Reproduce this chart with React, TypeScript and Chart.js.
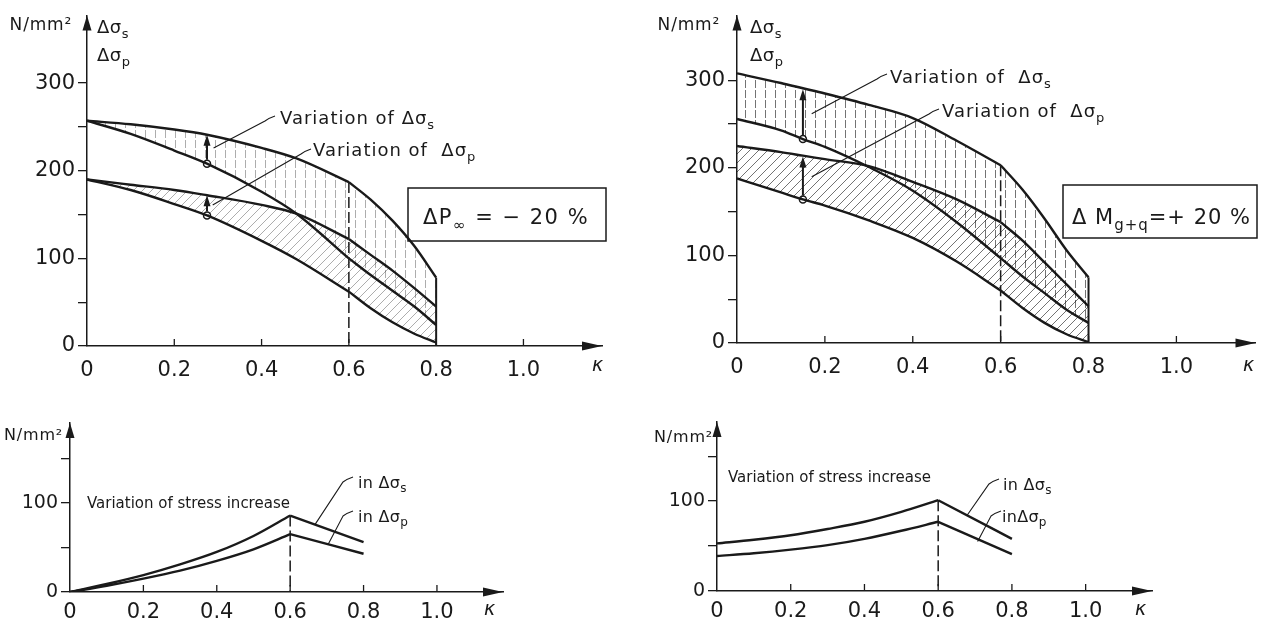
import React, { useEffect, useRef } from 'react';
import { Chart, registerables } from 'chart.js';

Chart.register(...registerables);

const FONT = '"DejaVu Sans", "Liberation Sans", sans-serif';
const INK = '#1a1a1a';

// ---- common axes ----
const kappaTicks = [0, 0.2, 0.4, 0.6, 0.8, 1.0];
const kappaMax = 1.18;
const topStressTicks = [0, 50, 100, 150, 200, 250, 300];
const bottomStressTicks = [0, 50, 100, 150];
const kappaKink = 0.6;

// ---- top left: ΔP∞ = −20 % ----
const tlKappaA = [0, 0.1, 0.2, 0.275, 0.4, 0.48, 0.6];
const tlSsUpperA = [257, 253, 247, 241, 226, 214, 187];
const tlSsLowerA = [257, 242, 223, 208, 176, 151, 100];
const tlSpUpperA = [190, 184, 178, 172, 161, 151, 122];
const tlSpLowerA = [190, 178, 162, 149, 120, 99, 62];
const tlKappaB = [0.6, 0.65, 0.7, 0.75, 0.8];
const tlSsUpperB = [187, 167, 143, 114, 78];
const tlSsLowerB = [100, 81, 63, 45, 24];
const tlSpUpperB = [122, 104, 86, 66, 45];
const tlSpLowerB = [62, 43, 27, 14, 4];
const tlMarkKappa = 0.275;
const tlArrowS = [208, 241];
const tlArrowP = [149, 172];

// ---- top right: ΔMg+q = +20 % ----
const trKappaA = [0, 0.1, 0.15, 0.2, 0.3, 0.4, 0.5, 0.6];
const trSsUpperA = [308, 297, 291, 285, 272, 257, 231, 203];
const trSsLowerA = [256, 243, 233, 224, 201, 174, 138, 97];
const trSpUpperA = [225, 218, 214, 210, 202, 184, 164, 138];
const trSpLowerA = [188, 172, 164, 157, 140, 120, 93, 60];
const trKappaB = [0.6, 0.65, 0.7, 0.75, 0.8];
const trSsUpperB = [203, 175, 142, 106, 75];
const trSsLowerB = [97, 76, 57, 38, 23];
const trSpUpperB = [138, 117, 92, 67, 42];
const trSpLowerB = [60, 40, 23, 10, 1];
const trMarkKappa = 0.15;
const trArrowS = [233, 290];
const trArrowP = [164, 213];

// ---- bottom left: variation of stress increase (ΔP∞) ----
const blKappaA = [0, 0.1, 0.2, 0.3, 0.4, 0.5, 0.6];
const blSsA = [0, 9, 19, 31, 45, 63, 86];
const blSpA = [0, 7, 15, 24, 35, 48, 65];
const blKappaB = [0.6, 0.8];
const blSsB = [86, 56];
const blSpB = [65, 43];

// ---- bottom right: variation of stress increase (ΔMg+q) ----
const brKappaA = [0, 0.1, 0.2, 0.3, 0.4, 0.5, 0.6];
const brSsA = [53, 57, 62, 69, 77, 88, 101];
const brSpA = [39, 42, 46, 51, 58, 67, 77];
const brKappaB = [0.6, 0.8];
const brSsB = [101, 58];
const brSpB = [77, 41];

type Seg = [string, 'n' | 'sub'];

const pts = (xs: number[], ys: number[]) => xs.map((x, i) => ({ x, y: ys[i] }));

function makePattern(kind: 'v' | 'd', color: string, size: number) {
  const c = document.createElement('canvas');
  c.width = size;
  c.height = size;
  const g = c.getContext('2d')!;
  g.strokeStyle = color;
  g.lineWidth = 1;
  g.beginPath();
  if (kind === 'v') {
    g.moveTo(size / 2 + 0.5, 0);
    g.lineTo(size / 2 + 0.5, size * 0.8);
  } else {
    g.moveTo(0, size);
    g.lineTo(size, 0);
    g.moveTo(-2, 2);
    g.lineTo(2, -2);
    g.moveTo(size - 2, size + 2);
    g.lineTo(size + 2, size - 2);
  }
  g.stroke();
  return g.createPattern(c, 'repeat')!;
}

function curve(data: any[], fill: any = null) {
  return {
    type: 'line',
    data,
    borderColor: INK,
    borderWidth: 2.4,
    pointRadius: 0,
    cubicInterpolationMode: 'monotone',
    fill: fill ? '+1' : false,
    backgroundColor: fill || 'rgba(0,0,0,0)',
  };
}

function markers(data: any[]) {
  return {
    type: 'line',
    data,
    showLine: false,
    pointRadius: 3.5,
    pointBackgroundColor: '#fff',
    pointBorderColor: INK,
    pointBorderWidth: 1.5,
    borderColor: INK,
    fill: false,
  };
}

function drawRich(ctx: CanvasRenderingContext2D, x: number, y: number, size: number, segs: Seg[], spacing = 0, align: 'left' | 'right' = 'left') {
  ctx.save();
  ctx.fillStyle = INK;
  ctx.textBaseline = 'alphabetic';
  ctx.textAlign = 'left';
  (ctx as any).letterSpacing = spacing + 'px';
  const fontFor = (k: string) => `${k === 'sub' ? Math.round(size * 0.72) : size}px ${FONT}`;
  let total = 0;
  for (const [s, k] of segs) {
    ctx.font = fontFor(k);
    total += ctx.measureText(s).width;
  }
  let cx = align === 'right' ? x - total : x;
  for (const [s, k] of segs) {
    ctx.font = fontFor(k);
    ctx.fillText(s, cx, y + (k === 'sub' ? size * 0.28 : 0));
    cx += ctx.measureText(s).width;
  }
  ctx.restore();
}

function tri(ctx: CanvasRenderingContext2D, tx: number, ty: number, dir: 'up' | 'right', len: number, half: number) {
  ctx.beginPath();
  if (dir === 'up') {
    ctx.moveTo(tx, ty);
    ctx.lineTo(tx - half, ty + len);
    ctx.lineTo(tx + half, ty + len);
  } else {
    ctx.moveTo(tx, ty);
    ctx.lineTo(tx - len, ty - half);
    ctx.lineTo(tx - len, ty + half);
  }
  ctx.closePath();
  ctx.fill();
}

function leader(ctx: CanvasRenderingContext2D, sx: number, sy: number, ex: number, ey: number) {
  ctx.save();
  ctx.strokeStyle = INK;
  ctx.lineWidth = 1.1;
  ctx.beginPath();
  ctx.moveTo(sx, sy);
  ctx.lineTo(ex - 7, ey + 4);
  ctx.quadraticCurveTo(ex - 3, ey + 1, ex + 3, ey - 1);
  ctx.stroke();
  ctx.restore();
}

function vline(ctx: CanvasRenderingContext2D, x: number, y0: number, y1: number, dash: number[], w: number) {
  ctx.save();
  ctx.strokeStyle = INK;
  ctx.lineWidth = w;
  ctx.setLineDash(dash);
  ctx.beginPath();
  ctx.moveTo(x, y0);
  ctx.lineTo(x, y1);
  ctx.stroke();
  ctx.restore();
}

function upArrow(ctx: CanvasRenderingContext2D, x: number, y0: number, y1: number) {
  ctx.save();
  ctx.strokeStyle = INK;
  ctx.fillStyle = INK;
  ctx.lineWidth = 2;
  ctx.beginPath();
  ctx.moveTo(x, y0 - 4);
  ctx.lineTo(x, y1 + 8);
  ctx.stroke();
  tri(ctx, x, y1, 'up', 11, 3.5);
  ctx.restore();
}

interface Spec {
  left: number; top: number; w: number; h: number;
  yWidth: number; xHeight: number;
  padding: { left: number; right: number; top: number; bottom: number };
  ymax: number; yTicks: number[];
  xFont: number; yFont: number; xPad: number;
  kappaPos: [number, number];
  unitPos: [number, number]; unitSize: number;
  datasets: (p: { v: CanvasPattern; d: CanvasPattern }) => any[];
  hatch: string;
  decor: (chart: any, ctx: CanvasRenderingContext2D) => void;
}

const S_SUB: Seg[] = [['Δσ', 'n'], ['s', 'sub']];
const P_SUB: Seg[] = [['Δσ', 'n'], ['p', 'sub']];

function topBands(kA: number[], kB: number[], su: number[][], sl: number[][], pu: number[][], pl: number[][], mk: number, marks: number[]) {
  return (p: { v: CanvasPattern; d: CanvasPattern }) => [
    curve(pts(kA, su[0]), p.v),
    curve(pts(kA, sl[0])),
    curve(pts(kA, pu[0]), p.d),
    curve(pts(kA, pl[0])),
    curve(pts(kB, su[1]), p.v),
    curve(pts(kB, sl[1])),
    curve(pts(kB, pu[1]), p.d),
    curve(pts(kB, pl[1])),
    markers(marks.map((m) => ({ x: mk, y: m }))),
  ];
}

const specs: Spec[] = [
  {
    left: 0, top: 0, w: 630, h: 390,
    yWidth: 87, xHeight: 44,
    padding: { left: 0, right: 28, top: 15, bottom: 0 },
    ymax: 377, yTicks: topStressTicks,
    xFont: 21, yFont: 21, xPad: 12,
    kappaPos: [592, 371], unitPos: [72, 30], unitSize: 17,
    hatch: 'rgba(0,0,0,0.32)',
    datasets: topBands(tlKappaA, tlKappaB, [tlSsUpperA, tlSsUpperB], [tlSsLowerA, tlSsLowerB], [tlSpUpperA, tlSpUpperB], [tlSpLowerA, tlSpLowerB], tlMarkKappa, [tlArrowS[0], tlArrowP[0]]),
    decor: (chart, ctx) => {
      const x = chart.scales.x, y = chart.scales.y;
      vline(ctx, x.getPixelForValue(kappaKink), y.getPixelForValue(tlSsUpperA[tlSsUpperA.length - 1]), y.getPixelForValue(0), [11, 4], 1.5);
      vline(ctx, x.getPixelForValue(0.8), y.getPixelForValue(tlSsUpperB[tlSsUpperB.length - 1]), y.getPixelForValue(0), [], 2);
      const mx = x.getPixelForValue(tlMarkKappa);
      upArrow(ctx, mx, y.getPixelForValue(tlArrowS[0]), y.getPixelForValue(tlArrowS[1]));
      upArrow(ctx, mx, y.getPixelForValue(tlArrowP[0]), y.getPixelForValue(tlArrowP[1]));
      leader(ctx, x.getPixelForValue(0.29), y.getPixelForValue(226), 272, 117);
      leader(ctx, x.getPixelForValue(0.288), y.getPixelForValue(161), 308, 150);
      drawRich(ctx, 280, 124, 18, [['Variation of ', 'n'], ...S_SUB], 1);
      drawRich(ctx, 313, 156, 18, [['Variation of  ', 'n'], ...P_SUB], 1);
      drawRich(ctx, 97, 33, 18, S_SUB, 0.5);
      drawRich(ctx, 97, 61, 18, P_SUB, 0.5);
      ctx.save();
      ctx.strokeStyle = INK;
      ctx.lineWidth = 1.5;
      ctx.strokeRect(408, 188, 198, 53);
      ctx.restore();
      drawRich(ctx, 423, 224, 21, [['ΔP', 'n'], ['∞', 'sub'], [' = − 20 %', 'n']], 1.5);
    },
  },
  {
    left: 630, top: 0, w: 631, h: 390,
    yWidth: 107, xHeight: 47,
    padding: { left: 0, right: 5, top: 15, bottom: 0 },
    ymax: 374, yTicks: topStressTicks,
    xFont: 21, yFont: 21, xPad: 12,
    kappaPos: [613, 371], unitPos: [90, 30], unitSize: 17,
    hatch: 'rgba(0,0,0,0.55)',
    datasets: topBands(trKappaA, trKappaB, [trSsUpperA, trSsUpperB], [trSsLowerA, trSsLowerB], [trSpUpperA, trSpUpperB], [trSpLowerA, trSpLowerB], trMarkKappa, [trArrowS[0], trArrowP[0]]),
    decor: (chart, ctx) => {
      const x = chart.scales.x, y = chart.scales.y;
      vline(ctx, x.getPixelForValue(kappaKink), y.getPixelForValue(trSsUpperA[trSsUpperA.length - 1]), y.getPixelForValue(0), [11, 4], 1.5);
      vline(ctx, x.getPixelForValue(0.8), y.getPixelForValue(trSsUpperB[trSsUpperB.length - 1]), y.getPixelForValue(0), [], 2);
      const mx = x.getPixelForValue(trMarkKappa);
      upArrow(ctx, mx, y.getPixelForValue(trArrowS[0]), y.getPixelForValue(trArrowS[1]));
      upArrow(ctx, mx, y.getPixelForValue(trArrowP[0]), y.getPixelForValue(trArrowP[1]));
      leader(ctx, x.getPixelForValue(0.17), y.getPixelForValue(262), 254, 75);
      leader(ctx, x.getPixelForValue(0.17), y.getPixelForValue(190), 306, 110);
      drawRich(ctx, 260, 83, 18, [['Variation of  ', 'n'], ...S_SUB], 1);
      drawRich(ctx, 312, 117, 18, [['Variation of  ', 'n'], ...P_SUB], 1);
      drawRich(ctx, 120, 33, 18, S_SUB, 0.5);
      drawRich(ctx, 120, 61, 18, P_SUB, 0.5);
      ctx.save();
      ctx.strokeStyle = INK;
      ctx.lineWidth = 1.5;
      ctx.strokeRect(433, 185, 194, 53);
      ctx.restore();
      drawRich(ctx, 442, 224, 21, [['Δ M', 'n'], ['g+q', 'sub'], ['=+ 20 %', 'n']], 1);
    },
  },
  {
    left: 0, top: 390, w: 630, h: 231,
    yWidth: 70, xHeight: 29,
    padding: { left: 0, right: 127, top: 33, bottom: 0 },
    ymax: 190, yTicks: bottomStressTicks,
    xFont: 21, yFont: 19, xPad: 8,
    kappaPos: [484, 225], unitPos: [63, 50], unitSize: 16,
    hatch: 'rgba(0,0,0,0.4)',
    datasets: () => [
      curve(pts(blKappaA, blSsA)),
      curve(pts(blKappaA, blSpA)),
      curve(pts(blKappaB, blSsB)),
      curve(pts(blKappaB, blSpB)),
    ],
    decor: (chart, ctx) => {
      const x = chart.scales.x, y = chart.scales.y;
      vline(ctx, x.getPixelForValue(kappaKink), y.getPixelForValue(blSsA[blSsA.length - 1]), y.getPixelForValue(0), [11, 4], 1.5);
      leader(ctx, x.getPixelForValue(0.668), y.getPixelForValue(76), 350, 88);
      leader(ctx, x.getPixelForValue(0.704), y.getPixelForValue(54), 350, 122);
      drawRich(ctx, 87, 118, 15, [['Variation of stress increase', 'n']], 0);
      drawRich(ctx, 358, 98, 16, [['in ', 'n'], ...S_SUB], 0.3);
      drawRich(ctx, 358, 132, 16, [['in ', 'n'], ...P_SUB], 0.3);
    },
  },
  {
    left: 630, top: 390, w: 631, h: 231,
    yWidth: 87, xHeight: 30,
    padding: { left: 0, right: 109, top: 32, bottom: 0 },
    ymax: 188, yTicks: bottomStressTicks,
    xFont: 21, yFont: 19, xPad: 8,
    kappaPos: [505, 225], unitPos: [83, 52], unitSize: 16,
    hatch: 'rgba(0,0,0,0.4)',
    datasets: () => [
      curve(pts(brKappaA, brSsA)),
      curve(pts(brKappaA, brSpA)),
      curve(pts(brKappaB, brSsB)),
      curve(pts(brKappaB, brSpB)),
    ],
    decor: (chart, ctx) => {
      const x = chart.scales.x, y = chart.scales.y;
      vline(ctx, x.getPixelForValue(kappaKink), y.getPixelForValue(brSsA[brSsA.length - 1]), y.getPixelForValue(0), [11, 4], 1.5);
      leader(ctx, x.getPixelForValue(0.678), y.getPixelForValue(84), 366, 90);
      leader(ctx, x.getPixelForValue(0.707), y.getPixelForValue(55), 368, 122);
      drawRich(ctx, 98, 92, 15, [['Variation of stress increase', 'n']], 0);
      drawRich(ctx, 373, 100, 16, [['in ', 'n'], ...S_SUB], 0.3);
      drawRich(ctx, 372, 132, 16, [['in', 'n'], ...P_SUB], 0.3);
    },
  },
];

function buildConfig(spec: Spec): any {
  const patterns = {
    v: makePattern('v', spec.hatch, 10),
    d: makePattern('d', spec.hatch, 9),
  };
  const decorPlugin = {
    id: 'decor',
    afterDatasetsDraw(chart: any) {
      const ctx: CanvasRenderingContext2D = chart.ctx;
      const a = chart.chartArea;
      const x = chart.scales.x;
      ctx.save();
      ctx.fillStyle = INK;
      ctx.strokeStyle = INK;
      tri(ctx, a.left, a.top, 'up', 15, 4.5);
      tri(ctx, a.right, a.bottom, 'right', 20, 4.5);
      ctx.lineWidth = 1.3;
      for (const v of kappaTicks) {
        if (v === 0) continue;
        const px = x.getPixelForValue(v);
        ctx.beginPath();
        ctx.moveTo(px, a.bottom);
        ctx.lineTo(px, a.bottom - 7);
        ctx.stroke();
      }
      ctx.restore();
      ctx.save();
      ctx.fillStyle = INK;
      ctx.font = `italic 19px ${FONT}`;
      ctx.textBaseline = 'alphabetic';
      ctx.fillText('κ', spec.kappaPos[0], spec.kappaPos[1]);
      ctx.restore();
      drawRich(ctx, spec.unitPos[0], spec.unitPos[1], spec.unitSize, [['N/mm²', 'n']], 0.8, 'right');
      spec.decor(chart, ctx);
    },
  };
  return {
    type: 'line',
    data: { datasets: spec.datasets(patterns) },
    plugins: [decorPlugin],
    options: {
      animation: false,
      responsive: false,
      events: [],
      layout: { padding: spec.padding },
      plugins: { legend: { display: false }, tooltip: { enabled: false } },
      scales: {
        x: {
          type: 'linear',
          min: 0,
          max: kappaMax,
          afterBuildTicks: (s: any) => {
            s.ticks = kappaTicks.map((v) => ({ value: v }));
          },
          afterFit: (s: any) => {
            s.height = spec.xHeight;
          },
          grid: { display: false, drawTicks: false },
          border: { display: true, color: INK, width: 1.5 },
          ticks: {
            autoSkip: false,
            maxRotation: 0,
            color: INK,
            padding: spec.xPad,
            font: { family: FONT, size: spec.xFont },
            callback: (v: any) => (Number(v) === 0 ? '0' : Number(v).toFixed(1)),
          },
        },
        y: {
          type: 'linear',
          min: 0,
          max: spec.ymax,
          afterBuildTicks: (s: any) => {
            s.ticks = spec.yTicks.map((v) => ({ value: v }));
          },
          afterFit: (s: any) => {
            s.width = spec.yWidth;
          },
          grid: { display: true, drawOnChartArea: false, drawTicks: true, tickLength: 9, color: INK, lineWidth: 1.3 },
          border: { display: true, color: INK, width: 1.5 },
          ticks: {
            autoSkip: false,
            color: INK,
            padding: 3,
            font: { family: FONT, size: spec.yFont },
            callback: (v: any) => (Number(v) % 100 === 0 ? String(v) : ''),
          },
        },
      },
    },
  };
}

function ChartPanel({ spec }: { spec: Spec }) {
  const ref = useRef<HTMLCanvasElement>(null);
  useEffect(() => {
    const chart = new Chart(ref.current as HTMLCanvasElement, buildConfig(spec));
    return () => chart.destroy();
  }, [spec]);
  return (
    <canvas
      ref={ref}
      width={spec.w}
      height={spec.h}
      style={{ position: 'absolute', left: spec.left, top: spec.top, width: spec.w, height: spec.h }}
    />
  );
}

export default function App() {
  return (
    <div style={{ position: 'absolute', left: 0, top: 0, width: 1261, height: 621, background: '#fff', overflow: 'hidden' }}>
      {specs.map((s, i) => (
        <ChartPanel key={i} spec={s} />
      ))}
    </div>
  );
}
